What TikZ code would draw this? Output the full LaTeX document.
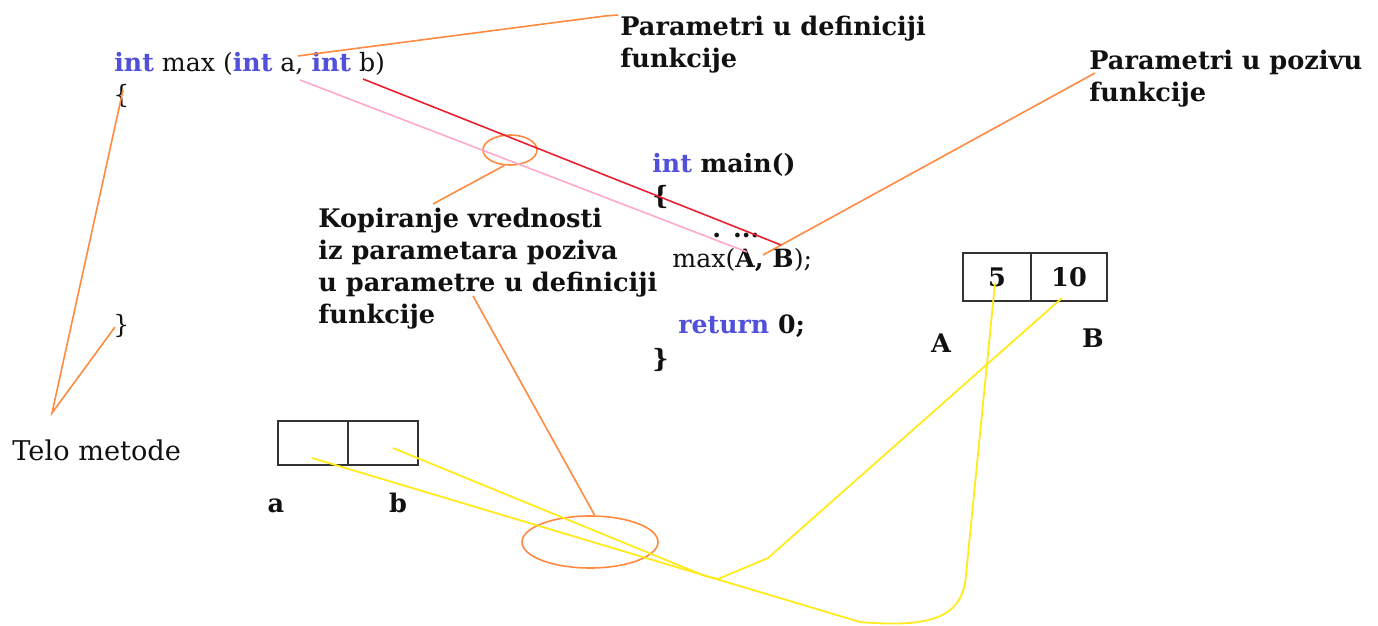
\documentclass[tikz,border=0pt]{standalone}
\usepackage{fontspec}
\setmainfont{DejaVu Serif}
\usetikzlibrary{positioning,shapes.geometric}
\definecolor{ink}{HTML}{111111}
\definecolor{kwC}{HTML}{5050DA}
\definecolor{orangeL}{HTML}{FF8A40}
\definecolor{pinkL}{HTML}{FFA8CC}
\definecolor{redL}{HTML}{E82030}
\definecolor{yellowL}{HTML}{FFEA1C}
\definecolor{boxLine}{HTML}{333333}
\newcommand{\kwd}[1]{\textcolor{kwC}{\bfseries #1}}
\tikzset{
  code/.style={font=\fontsize{12.6}{15}\selectfont,text=ink,anchor=base west,inner sep=0pt},
  bcode/.style={code,font=\fontsize{12.6}{15}\selectfont\bfseries},
  note/.style={font=\fontsize{12.8}{16}\selectfont\bfseries,text=ink,align=left,anchor=north west,inner sep=0pt},
  varlab/.style={font=\fontsize{12.8}{15}\selectfont\bfseries,text=ink,anchor=base,inner sep=0pt},
  cell/.style={draw=boxLine,line width=1pt,minimum width=35pt,minimum height=22pt,inner sep=0pt,
    font=\fontsize{12.8}{15}\selectfont\bfseries,text=ink},
  ring/.style={ellipse,draw=orangeL,line width=0.8pt,inner sep=0pt},
  pointer/.style={orangeL,line width=0.8pt},
  copyline/.style={yellowL,line width=0.9pt},
}

\begin{document}
\begin{tikzpicture}[x=0.5pt,y=-0.5pt]
\useasboundingbox (0,0) rectangle (1378,626);

% ---------- function definition ----------
\node[code] (defHead) at (114,72) {\kwd{int} max (\kwd{int} a, \kwd{int} b)};
\node[code] (defOpen) at (113,104) {\{};
\node[code] (defClose) at (113,334) {\}};
\node[code,font=\fontsize{13.6}{15}\selectfont] (bodyLab) at (12,460) {Telo metode};

% ---------- main ----------
\node[bcode] (mainHead) at (652,173) {\kwd{int} main()};
\node[bcode] (mainOpen) at (652,205) {\{};
\node[bcode] (mainDots) at (712,238) {.\hspace{6pt}...};
\node[code] (mainCall) at (672,268) {max(\textbf{A, B});};
\node[bcode] (mainRet) at (678,333) {\kwd{return} 0;};
\node[bcode] (mainClose) at (652,367) {\}};

% ---------- notes ----------
\node[note] (defNote) at (620,16) {Parametri u definiciji\\funkcije};
\node[note] (callNote) at (1089,50) {Parametri u pozivu\\funkcije};
\node[note] (copyNote) at (318,208) {Kopiranje vrednosti\\iz parametara poziva\\u parametre u definiciji\\funkcije};

% ---------- memory cells ----------
\node[cell] (cellA) at (313,443) {};
\node[cell,right=-1pt of cellA] (cellB) {};
\node[varlab] (labA) at (276,512) {a};
\node[varlab] (labB) at (398,512) {b};
\node[cell,minimum width=34pt,minimum height=23.5pt] (cell5) at (997,277) {5};
\node[cell,minimum width=38pt,minimum height=23.5pt,right=-1pt of cell5] (cell10) {10};
\node[varlab] (labAA) at (941,352) {A};
\node[varlab] (labBB) at (1093,347) {B};

% ---------- rings ----------
\node[ring,minimum width=27pt,minimum height=15pt] (smallRing) at (510,150) {};
\node[ring,minimum width=68pt,minimum height=26pt] (copyRing) at (590,542) {};

% ---------- pointers ----------
\coordinate (bodyTip) at (52,413);
\coordinate (openTip) at (123,90);
\coordinate (closeTip) at (115,327);
\draw[pointer] (openTip) -- (bodyTip) -- (closeTip);
\coordinate (parDef) at (298,56);
\coordinate (defTip) at (618,15);
\draw[pointer] (parDef) -- (605,16) -- (defTip);
\coordinate (callTip) at (763,255);
\coordinate (callEnd) at (1095,73);
\draw[pointer] (callTip) -- (callEnd);
\coordinate (copyTop) at (433,204);
\draw[pointer] (smallRing.250) -- (copyTop);
\coordinate (copyBot) at (473,296);
\draw[pointer] (copyBot) -- (copyRing.80);

% ---------- value flow ----------
\coordinate (aFrom) at (300,80);
\coordinate (aTo) at (747,252);
\draw[pinkL,line width=0.8pt] (aFrom) -- (aTo);
\coordinate (bFrom) at (363,79);
\coordinate (bTo) at (781,245);
\draw[redL,line width=0.8pt] (bFrom) -- (bTo);

\coordinate (inA) at (312,458);
\coordinate (inB) at (393,448);
\coordinate (in5) at (995,283);
\coordinate (in10) at (1062,298);
\draw[copyline] (inA) -- (860,622) .. controls (930,628) and (963,618) .. (966,575) -- (in5);
\draw[copyline] (inB) -- (705,576) -- (718,579) -- (768,558) -- (in10);

\end{tikzpicture}
\end{document}
